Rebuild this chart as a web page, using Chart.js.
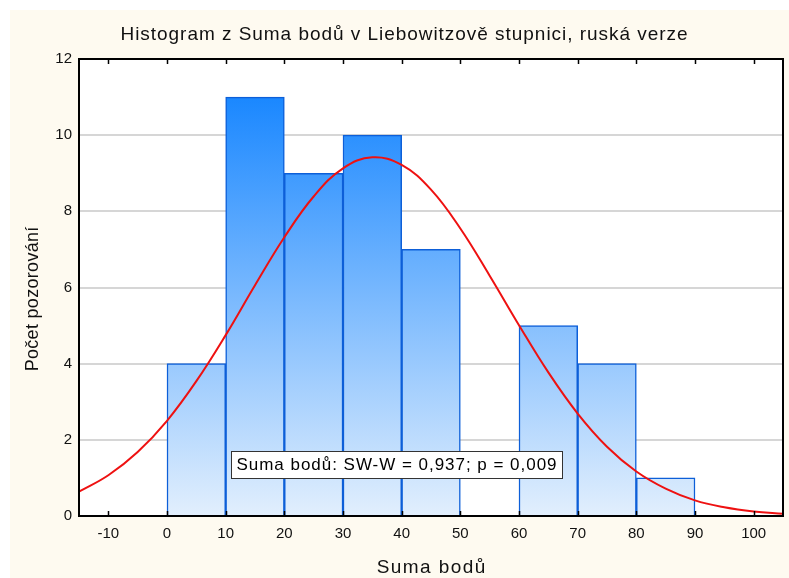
<!DOCTYPE html>
<html>
<head>
<meta charset="utf-8">
<script src="https://cdn.jsdelivr.net/npm/chart.js@4.4.1/dist/chart.umd.min.js"></script>
<style>
  html, body { margin: 0; padding: 0; background: #fff; }
  #wrap { position: relative; width: 789px; height: 578px; }
</style>
</head>
<body>
<div id="wrap"><canvas id="chart" width="789" height="578"></canvas></div>
<script>
'use strict';

// histogram bins (lower edges) and counts
var binStart = [0, 10, 20, 30, 40, 50, 60, 70, 80];
var counts = [4, 11, 9, 10, 7, 0, 5, 4, 1];
var binWidth = 10;

// expected normal curve
var curveX = [-15, -10, -5, 0, 5, 10, 15, 20, 25, 30, 35, 40, 45, 50, 55, 60, 65, 70, 75, 80, 85, 90, 95, 100, 105];
var curveY = [0.64, 1.07, 1.68, 2.5, 3.54, 4.75, 6.06, 7.32, 8.39, 9.13, 9.42, 9.22, 8.57, 7.55, 6.31, 5.01, 3.77, 2.69, 1.82, 1.17, 0.72, 0.41, 0.23, 0.12, 0.06];

var xTicks = [-10, 0, 10, 20, 30, 40, 50, 60, 70, 80, 90, 100];
var yTicks = [0, 2, 4, 6, 8, 10, 12];

var titleText = 'Histogram z Suma bodů v Liebowitzově stupnici, ruská verze';
var xTitle = 'Suma bodů';
var yTitle = 'Počet pozorování';
var noteText = 'Suma bodů: SW-W = 0,937; p = 0,009';

var FONT = '"Liberation Sans", Arial, sans-serif';

var barData = binStart.map(function(b, i) {
  return { x: b + binWidth / 2, y: counts[i] };
});
var curveData = curveX.map(function(x, i) {
  return { x: x, y: curveY[i] };
});

function barGradient(context) {
  var chart = context.chart;
  var area = chart.chartArea;
  if (!area) return '#5aa8ff';
  var g = chart.ctx.createLinearGradient(0, area.top, 0, area.bottom);
  g.addColorStop(0, 'rgb(8,126,255)');
  g.addColorStop(1, 'rgb(226,239,253)');
  return g;
}

// draw text stretched to a target width with letter spacing
function spaced(c, text, x, y, width) {
  c.letterSpacing = '0px';
  var w = c.measureText(text).width;
  var sp = (width - w) / text.length;
  c.letterSpacing = sp + 'px';
  c.fillText(text, x + sp / 2, y);
  c.letterSpacing = '0px';
}

var backdrop = {
  id: 'backdrop',
  beforeDraw: function(chart) {
    var c = chart.ctx;
    c.save();
    c.fillStyle = '#fefaf0';
    c.fillRect(10, 10, 1000, 1000);
    var a = chart.chartArea;
    c.fillStyle = '#ffffff';
    c.fillRect(a.left, a.top, a.right - a.left, a.bottom - a.top);
    c.restore();
  },
  afterDraw: function(chart) {
    var c = chart.ctx;
    var a = chart.chartArea;
    var xs = chart.scales.x;
    c.save();
    c.fillStyle = '#111';
    c.textAlign = 'center';
    c.textBaseline = 'middle';

    // title
    c.font = '19px ' + FONT;
    spaced(c, titleText, 404, 35, 568);

    // axis titles
    c.font = '19px ' + FONT;
    spaced(c, xTitle, 431, 568, 110);
    c.save();
    c.translate(33, 299);
    c.rotate(-Math.PI / 2);
    c.font = '18px ' + FONT;
    spaced(c, yTitle, 0, 0, 145);
    c.restore();

    // inner tick marks
    c.strokeStyle = '#000';
    c.lineWidth = 1.5;
    xTicks.forEach(function(t) {
      var px = Math.round(xs.getPixelForValue(t)) + 0.5;
      c.beginPath();
      c.moveTo(px, a.top);
      c.lineTo(px, a.top + 5);
      c.moveTo(px, a.bottom);
      c.lineTo(px, a.bottom - 5);
      c.stroke();
    });

    // frame
    c.lineWidth = 2;
    c.strokeRect(a.left, a.top, a.right - a.left, a.bottom - a.top);

    // SW-W note
    var bx = 231, by = 451, bw = 331, bh = 27;
    c.fillStyle = '#fff';
    c.fillRect(bx, by, bw, bh);
    c.lineWidth = 1;
    c.strokeStyle = '#333';
    c.strokeRect(bx + 0.5, by + 0.5, bw, bh);
    c.fillStyle = '#000';
    c.font = '17px ' + FONT;
    spaced(c, noteText, bx + bw / 2, by + bh / 2 + 1, 321);
    c.restore();
  }
};

new Chart(document.getElementById('chart'), {
  data: {
    datasets: [{
      type: 'line',
      data: curveData,
      borderColor: '#ee1111',
      borderWidth: 2,
      pointRadius: 0,
      tension: 0.4,
      fill: false,
      order: 0
    }, {
      type: 'bar',
      data: barData,
      backgroundColor: barGradient,
      borderColor: '#0d5fd8',
      borderWidth: 1.5,
      barPercentage: 1,
      categoryPercentage: 1,
      grouped: false,
      order: 1
    }]
  },
  options: {
    responsive: false,
    animation: false,
    layout: { padding: { top: 59, left: 10, right: 6, bottom: 0 } },
    plugins: {
      legend: { display: false },
      tooltip: { enabled: false },
      title: { display: false }
    },
    scales: {
      x: {
        type: 'linear',
        offset: false,
        min: -15,
        max: 105,
        afterBuildTicks: function(s) {
          s.ticks = xTicks.map(function(v) { return { value: v }; });
        },
        afterFit: function(s) { s.height = 62; },
        grid: { display: false, drawTicks: false, offset: false },
        border: { display: false },
        ticks: {
          color: '#111',
          padding: 9,
          maxRotation: 0,
          font: { family: FONT, size: 15 }
        }
      },
      y: {
        min: 0,
        max: 12,
        afterBuildTicks: function(s) {
          s.ticks = yTicks.map(function(v) { return { value: v }; });
        },
        afterFit: function(s) { s.width = 69; },
        grid: { color: '#d6d6d6', lineWidth: 2, drawTicks: false },
        border: { display: false },
        ticks: {
          color: '#111',
          padding: 7,
          font: { family: FONT, size: 15 }
        }
      }
    }
  },
  plugins: [backdrop]
});
</script>
</body>
</html>
